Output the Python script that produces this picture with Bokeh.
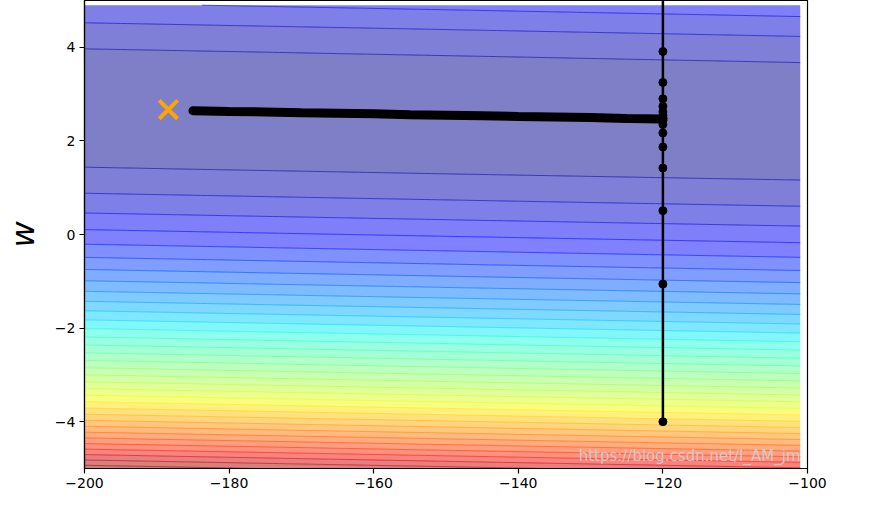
import numpy as np
from bokeh.plotting import figure
from bokeh.models import FixedTicker, CustomJSTickFormatter, Label
from bokeh.embed import file_html
from bokeh.resources import INLINE

# training data (defines the loss surface)
x_data = [338., 333., 328., 207., 226., 25., 179., 60., 208., 606.]
y_data = [640., 633., 619., 393., 428., 27., 193., 66., 226., 1591.]

# parameter grid for the loss surface
b_start, b_stop, b_step = -200, -100, 1
w_start, w_stop, w_step = -5, 5, 0.1

# gradient-descent path
b_history = [-120, -120, -120, -120, -120, -120, -120, -120, -120, -120,
             -120, -120, -120, -120, -120, -120, -120]
w_history = [-4.0, 6.1, -1.06, 3.91, 0.51, 3.25, 1.42, 2.90, 1.87, 2.74,
             2.17, 2.62, 2.35, 2.55, 2.43, 2.50, 2.47]

# dense part of the path (points merge into a thick band)
b_band = [-120, -125, -130, -135, -140, -145, -150, -155, -160, -165,
          -170, -175, -180, -185]
w_band = [2.47, 2.48, 2.50, 2.51, 2.52, 2.54, 2.55, 2.56, 2.58, 2.59,
          2.60, 2.62, 2.63, 2.645]

# best parameters
b_best = [-188.4]
w_best = [2.67]

x_ticks = [-200, -180, -160, -140, -120, -100]
y_ticks = [-4, -2, 0, 2, 4]

# ---- loss surface ----
bs = np.arange(b_start, b_stop, b_step)
ws = np.arange(w_start, w_stop, w_step)
xd = np.array(x_data)
yd = np.array(y_data)
B, W = np.meshgrid(bs, ws)
Z = ((yd[None, None, :] - B[..., None] - W[..., None] * xd[None, None, :]) ** 2).mean(axis=-1)

# 50 contour levels chosen like matplotlib's MaxNLocator(51)
zmin, zmax = float(Z.min()), float(Z.max())
raw = (zmax - zmin) / 51.0
mag = 10 ** np.floor(np.log10(raw))
step = 10 * mag
for s in [1, 1.5, 2, 2.5, 3, 4, 5, 6, 8, 10]:
    if s * mag >= raw:
        step = s * mag
        break
lo = np.floor(zmin / step) * step
hi = np.ceil(zmax / step) * step
levels = np.arange(lo, hi + step / 2, step)


def jet(v):
    v = np.clip(np.asarray(v, dtype=float), 0, 1)
    r = np.interp(v, [0, 0.35, 0.66, 0.89, 1], [0, 0, 1, 1, 0.5])
    g = np.interp(v, [0, 0.125, 0.375, 0.64, 0.91, 1], [0, 0, 1, 1, 0, 0])
    b = np.interp(v, [0, 0.11, 0.34, 0.65, 1], [0.5, 1, 1, 0, 0])
    return ["#%02x%02x%02x" % (int(round(a * 255)), int(round(c * 255)), int(round(d * 255)))
            for a, c, d in zip(np.atleast_1d(r), np.atleast_1d(g), np.atleast_1d(b))]


mids = (levels[:-1] + levels[1:]) / 2
norm_mid = (mids - levels[0]) / (levels[-1] - levels[0])
fill_colors = jet(norm_mid)
norm_lev = (levels - levels[0]) / (levels[-1] - levels[0])
line_colors = jet(norm_lev)

p = figure(frame_width=723, frame_height=468, x_range=(-200, -100), y_range=(-5, 5),
           output_backend="svg", toolbar_location=None,
           min_border_left=77, min_border_top=0, min_border_right=75, min_border_bottom=28)
p.background_fill_color = "white"
p.border_fill_color = "white"
p.grid.visible = False
p.outline_line_color = "black"
p.outline_line_width = 1.2

p.contour(bs, ws, Z, levels, fill_color=fill_colors, fill_alpha=0.5,
          line_color=line_colors, line_alpha=0.6, line_width=1)

p.line(b_band, w_band, line_color="black", line_width=9, line_cap="round")
p.line(b_history + b_band[1:], w_history + w_band[1:], line_color="black", line_width=2.5)
p.scatter(b_history, w_history, size=8, color="black")
p.scatter(b_best, w_best, marker="x", size=26, line_width=4, line_color="orange")

for ax in (p.xaxis[0], p.yaxis[0]):
    ax.major_label_text_font = "DejaVu Sans"
    ax.major_label_text_font_size = "14px"
    ax.major_label_text_color = "black"
    ax.axis_line_color = "black"
    ax.axis_line_width = 1.2
    ax.major_tick_line_color = "black"
    ax.major_tick_line_width = 1.2
    ax.major_tick_out = 5
    ax.major_tick_in = 0
    ax.minor_tick_line_color = None
    ax.major_label_standoff = 4
    ax.formatter = CustomJSTickFormatter(code="return String(tick).replace('-', '\u2212');")

p.xaxis.ticker = FixedTicker(ticks=x_ticks)
p.yaxis.ticker = FixedTicker(ticks=y_ticks)
p.yaxis.axis_label = "w"
p.yaxis.axis_label_text_font = "DejaVu Sans"
p.yaxis.axis_label_text_font_style = "italic"
p.yaxis.axis_label_text_font_size = "32px"
p.yaxis.axis_label_text_color = "black"
p.yaxis.axis_label_standoff = 10

wm = Label(x=716, y=4, x_units="screen", y_units="screen", level="overlay",
           text="https://blog.csdn.net/I_AM_jm", text_font="DejaVu Sans",
           text_align="right", text_baseline="bottom",
           text_font_size="15px", text_color="#d0d0d0", text_alpha=0.9)
p.add_layout(wm)

open("out.html", "w").write(file_html(p, INLINE))
